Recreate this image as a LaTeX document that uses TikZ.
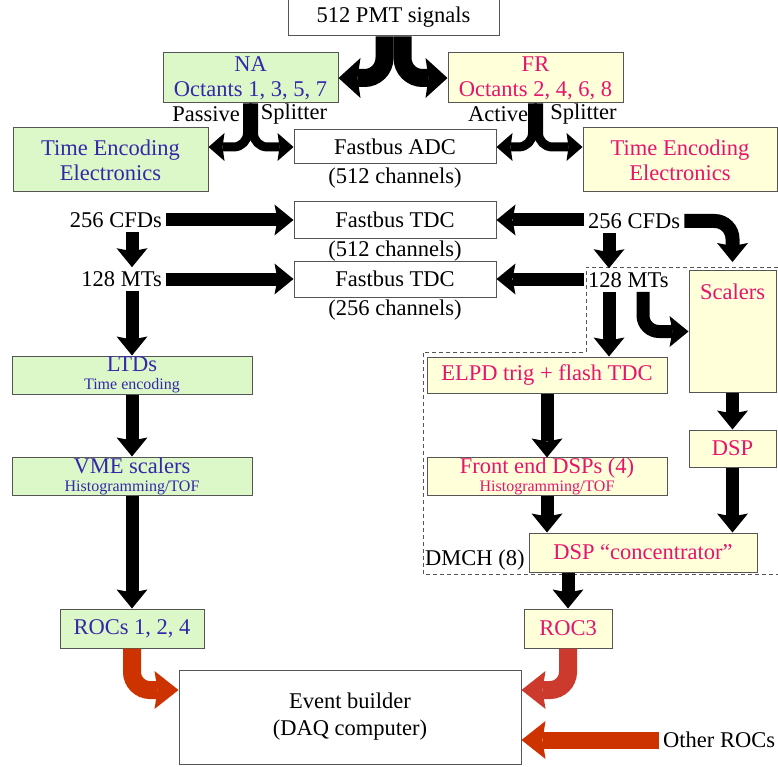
\documentclass[tikz,border=0pt]{standalone}
\usepackage{fontspec}
\setmainfont{Liberation Serif}
\usetikzlibrary{arrows.meta}
\definecolor{nagreen}{RGB}{220,248,200}
\definecolor{fryellow}{RGB}{255,255,218}
\definecolor{nablue}{RGB}{52,40,170}
\definecolor{frpink}{RGB}{230,20,110}
\definecolor{boxgrey}{RGB}{85,85,85}
\definecolor{rocred}{RGB}{204,51,0}
\definecolor{roctred}{RGB}{204,58,45}
\newcommand{\bigtxt}{\rmfamily\fontsize{22.5pt}{25pt}\selectfont}
\newcommand{\smalltxt}{\rmfamily\fontsize{16pt}{14pt}\selectfont}
\tikzset{
	blk/.style={draw=boxgrey,line width=1pt,inner sep=0pt,align=center,font=\bigtxt},
	wbox/.style 2 args={blk,fill=white,text=black,minimum width=#1,minimum height=#2},
	gbox/.style 2 args={blk,fill=nagreen,text=nablue,minimum width=#1,minimum height=#2},
	ybox/.style 2 args={blk,fill=fryellow,text=frpink,minimum width=#1,minimum height=#2},
	lbl/.style={inner sep=4pt,font=\bigtxt},
	fat/.style={line width=13pt,-{Stealth[length=19pt,width=31pt,inset=3pt,line width'=0pt]}},
	wide/.style={line width=18pt,rounded corners=20pt,-{Stealth[length=22pt,width=40pt,inset=3pt,line width'=0pt]}},
	split/.style={line width=9pt,rounded corners=14pt,-{Stealth[length=16pt,width=28pt,inset=2pt,line width'=0pt]}},
	rfat/.style={line width=18pt,draw=#1,rounded corners=18pt,-{Stealth[length=24pt,width=38pt,inset=3pt,line width'=0pt]}},
	rfat/.default=rocred,
	dmch/.style={draw=boxgrey,line width=1pt,dash pattern=on 4pt off 3pt}
}

\begin{document}
\begin{tikzpicture}[x=1pt,y=-1pt]
	\useasboundingbox (0,0) rectangle (778,767);

	\draw[dmch] (778,267) -- (586,267) -- (586,352) -- (423,352) -- (423,574) -- (778,574);

	\node [wbox={211}{38}] (pmt) at (393.5,17) {512 PMT signals};
	\node [gbox={175}{50}] (na) at (250.5,78) {\bigtxt NA\\\bigtxt Octants 1, 3, 5, 7};
	\node [ybox={175}{50}] (fr) at (535.5,78) {\bigtxt FR\\\bigtxt Octants 2, 4, 6, 8};
	\node [lbl] (pas) at (206,114) {Passive};
	\node [lbl] (splA) at (294,114) {Splitter};
	\node [lbl] (act) at (498,114) {Active};
	\node [lbl] (splB) at (583.5,114) {Splitter};

	\node [gbox={195}{64}] (teL) at (110.5,160) {\bigtxt Time Encoding\\\bigtxt Electronics};
	\node [ybox={194}{64}] (teR) at (680,160) {\bigtxt Time Encoding\\\bigtxt Electronics};
	\node [wbox={202}{34}] (adc) at (395,147) {\bigtxt Fastbus ADC};
	\node [lbl] (adcch) at (395,178) {(512 channels)};
	\node [wbox={202}{36}] (tdcA) at (395,220) {\bigtxt Fastbus TDC};
	\node [lbl] (tdcAch) at (395,251) {(512 channels)};
	\node [wbox={202}{36}] (tdcB) at (395,279) {\bigtxt Fastbus TDC};
	\node [lbl] (tdcBch) at (395,310) {(256 channels)};

	\node [lbl,anchor=east] (cfdL) at (166,220) {256 CFDs};
	\node [lbl,anchor=east] (mtL) at (166,279) {128 MTs};
	\node [lbl,anchor=west] (cfdR) at (584,221) {256 CFDs};
	\node [lbl,anchor=west] (mtR) at (584,280) {128 MTs};

	\node [gbox={240}{38}] (ltd) at (132,375) {\bigtxt LTDs\\[-7pt]\smalltxt Time encoding};
	\node [gbox={240}{38}] (vme) at (132,476) {\bigtxt VME scalers\\[-7pt]\smalltxt Histogramming/TOF};
	\node [gbox={144}{39}] (rocs) at (132,628.5) {\bigtxt ROCs 1, 2, 4};

	\node [ybox={87}{0},text height=29pt,text depth=93pt,anchor=north] (scal) at (732.5,270) {\bigtxt Scalers};
	\node [ybox={240}{36}] (elpd) at (547,375) {\bigtxt ELPD trig + flash TDC};
	\node [ybox={240}{37}] (fe) at (547,476.5) {\bigtxt Front end DSPs (4)\\[-7pt]\smalltxt Histogramming/TOF};
	\node [ybox={87}{37}] (dsp) at (732.5,448.5) {\bigtxt DSP};
	\node [ybox={228}{39}] (conc) at (643,552.5) {\bigtxt DSP “concentrator”};
	\node [lbl,anchor=west] (dmchlbl) at (421,560) {DMCH (8)};
	\node [ybox={88}{39}] (roc) at (568,628.5) {\bigtxt ROC3};

	\node [wbox={342}{94}] (eb) at (350,717) {\bigtxt Event builder\\[2pt]\bigtxt (DAQ computer)};
	\node [lbl,anchor=west] (others) at (659,740) {Other ROCs};

	\coordinate (rcol) at (609,0);
	\coordinate (rbend) at (643,0);

	\draw[wide] ([xshift=-9pt]pmt.south) |- (na.east);
	\draw[wide] ([xshift=9pt]pmt.south) |- (fr.west);
	\draw[split] ([xshift=-3pt]na.south) |- (teL.east |- adc.west);
	\draw[split] ([xshift=3pt]na.south) |- (adc.west);
	\draw[split] ([xshift=-3pt]fr.south) |- (adc.east);
	\draw[split] ([xshift=3pt]fr.south) |- (teR.west |- adc.east);

	\draw[fat] (cfdL.east) -- (tdcA.west);
	\draw[fat] (mtL.east) -- (tdcB.west);
	\draw[fat] (cfdR.west |- tdcA.east) -- (tdcA.east);
	\draw[fat] (mtR.west |- tdcB.east) -- (tdcB.east);
	\draw[fat] (cfdL.south -| ltd.north) -- (mtL.north -| ltd.north);
	\draw[fat] (mtL.south -| ltd.north) -- (ltd.north);
	\draw[fat] (ltd.south) -- (vme.north);
	\draw[fat] (vme.south) -- (rocs.north);

	\draw[fat] (cfdR.south -| rcol) -- (mtR.north -| rcol);
	\draw[fat,line width=14pt,rounded corners=18pt,shorten >=8pt] (cfdR.east) -| (scal.north);
	\draw[fat] (mtR.south -| rcol) -- (elpd.north -| rcol);
	\draw[fat,rounded corners=16pt] (mtR.south -| rbend) |- (scal.west);
	\draw[fat] (elpd.south) -- (fe.north);
	\draw[fat] (fe.south) -- (fe.south |- conc.north);
	\draw[fat] (scal.south) -- (dsp.north);
	\draw[fat] (dsp.south) -- (dsp.south |- conc.north);
	\draw[fat] (roc.north |- conc.south) -- (roc.north);

	\draw[rfat] (rocs.south) |- ([yshift=27pt]eb.west);
	\draw[rfat=roctred] (roc.south) |- ([yshift=27pt]eb.east);
	\draw[rfat,line width=17pt] (others.west) -- (eb.east |- others.west);
\end{tikzpicture}
\end{document}
